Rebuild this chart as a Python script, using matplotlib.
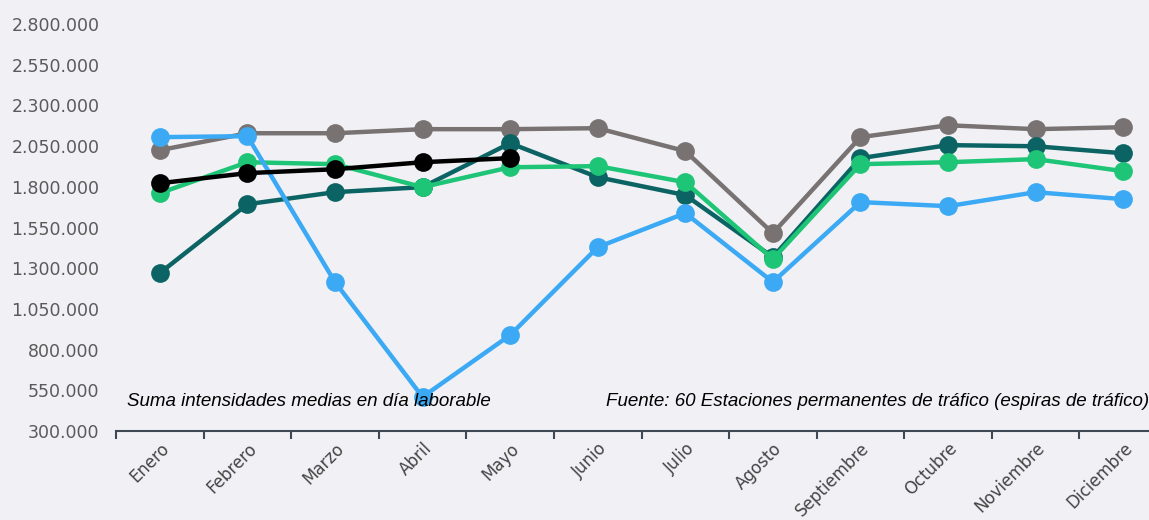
import matplotlib
matplotlib.use("Agg")
import matplotlib.pyplot as plt
from matplotlib.ticker import FuncFormatter, FixedLocator

months = ["Enero", "Febrero", "Marzo", "Abril", "Mayo", "Junio", "Julio",
          "Agosto", "Septiembre", "Octubre", "Noviembre", "Diciembre"]

serie_gris = [2025000, 2129000, 2129000, 2154000, 2154000, 2160000, 2019000,
              1515000, 2105000, 2178000, 2154000, 2166000]
serie_teal = [1270000, 1693000, 1767000, 1798000, 2068000, 1859000, 1749000,
              1368000, 1976000, 2056000, 2049000, 2006000]
serie_verde = [1761000, 1951000, 1939000, 1798000, 1920000, 1927000, 1828000,
               1356000, 1939000, 1951000, 1970000, 1896000]
serie_azul = [2105000, 2111000, 1215000, 509000, 889000, 1429000, 1638000,
              1215000, 1706000, 1681000, 1767000, 1724000]
serie_negra = [1822000, 1884000, 1908000, 1951000, 1976000]

y_ticks = [300000 + 250000 * i for i in range(11)]

series = [
    (serie_gris, "#787372"),
    (serie_teal, "#0b6463"),
    (serie_verde, "#1ec576"),
    (serie_azul, "#3ba9f4"),
    (serie_negra, "#000000"),
]

bg = "#f1f1f5"
fig = plt.figure(figsize=(11.49, 5.20), dpi=100, facecolor=bg)
ax = fig.add_axes([116 / 1149, (520 - 431) / 520, (1167 - 116) / 1149, (431 - 24) / 520])
ax.set_facecolor(bg)

x = list(range(len(months)))
for vals, col in series:
    ax.plot(x[:len(vals)], vals, color=col, lw=3.2, marker="o", ms=13.5,
            markeredgewidth=0, solid_capstyle="round")

ax.set_xlim(-0.5, 11.5)
ax.set_ylim(300000, 2800000)
ax.yaxis.set_major_locator(FixedLocator(y_ticks))
ax.yaxis.set_major_formatter(FuncFormatter(lambda v, p: f"{int(v):,}".replace(",", ".")))
ax.tick_params(axis="y", length=0, labelsize=12.5, labelcolor="#5a5a5a", pad=12)

ax.set_xticks([i - 0.5 for i in range(13)])
ax.set_xticklabels([])
ax.set_xticks(x, minor=True)
ax.set_xticklabels(months, minor=True, rotation=45, ha="right",
                   rotation_mode="anchor", fontsize=12, color="#454545")
ax.tick_params(axis="x", which="major", length=6, width=1.5, color="#3e4955", direction="out")
ax.tick_params(axis="x", which="minor", length=0, pad=6)

for s in ["left", "right", "top"]:
    ax.spines[s].set_visible(False)
ax.spines["bottom"].set_color("#3e4955")
ax.spines["bottom"].set_linewidth(1.5)

fig.text(127, 520 - 402, "Suma intensidades medias en día laborable", transform=None,
         fontsize=13.5, style="italic", family="Liberation Sans", va="center", ha="left")
fig.text(1149, 520 - 402, "Fuente: 60 Estaciones permanentes de tráfico (espiras de tráfico)",
         fontsize=13.5, style="italic", family="Liberation Sans", va="center", ha="right",
         transform=None)

fig.savefig("out.png", dpi=100, facecolor=bg)
